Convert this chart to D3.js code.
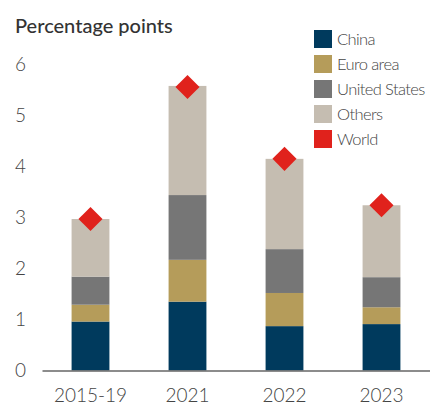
<!DOCTYPE html>
<html>
<head>
<meta charset="utf-8">
<script src="https://cdn.jsdelivr.net/npm/d3@7"></script>
<style>
  body { margin: 0; background: #fff; }
  text { font-family: Lato, "Open Sans", sans-serif; }
</style>
</head>
<body>
<svg id="chart" width="430" height="408"></svg>
<script>
// data
var periods = ['2015-19', '2021', '2022', '2023'];
var seriesNames = ['China', 'Euro area', 'United States', 'Others'];
var china = [0.96, 1.35, 0.87, 0.91];
var euroArea = [0.33, 0.82, 0.65, 0.33];
var unitedStates = [0.55, 1.27, 0.86, 0.59];
var others = [1.13, 2.14, 1.77, 1.41];
var world = [2.97, 5.56, 4.15, 3.24];
var yTicks = [0, 1, 2, 3, 4, 5, 6];

var colours = ['#003a5d', '#b59c5a', '#767676', '#c5bdb1'];
var worldColour = '#e0221c';

var svg = d3.select('#chart');

// build rows for the stack
var rows = periods.map(function(p, i) {
    return { period: p, 'China': china[i], 'Euro area': euroArea[i], 'United States': unitedStates[i], 'Others': others[i], world: world[i] };
});

var x = d3.scaleBand()
    .domain(periods)
    .range([42, 430])
    .paddingInner(0.61)
    .paddingOuter(0.305);

var y = d3.scaleLinear()
    .domain([0, 6])
    .range([370.5, 64.5]);

var stack = d3.stack().keys(seriesNames);
var layers = stack(rows);

// title
svg.append('text')
    .attr('x', 15)
    .attr('y', 33)
    .attr('font-size', 20)
    .attr('font-weight', 500)
    .attr('fill', '#333')
    .text('Percentage points');

// y tick labels (no axis line)
svg.append('g').selectAll('text')
    .data(yTicks)
    .enter().append('text')
    .attr('x', 15)
    .attr('y', function(d) { return y(d); })
    .attr('dy', '0.36em')
    .attr('font-size', 19)
    .attr('font-weight', 300)
    .attr('fill', '#444')
    .text(function(d) { return d; });

// bars
svg.append('g').selectAll('g')
    .data(layers)
    .enter().append('g')
    .attr('fill', function(d, i) { return colours[i]; })
    .selectAll('rect')
    .data(function(d) { return d; })
    .enter().append('rect')
    .attr('x', function(d) { return x(d.data.period); })
    .attr('width', x.bandwidth())
    .attr('y', function(d) { return y(d[1]); })
    .attr('height', function(d) { return y(d[0]) - y(d[1]); });

// baseline
var xAxis = svg.append('g')
    .attr('transform', 'translate(0,' + y(0) + ')')
    .call(d3.axisBottom(x).tickSize(0).tickPadding(18));
xAxis.select('.domain').attr('stroke', '#666').attr('stroke-width', 1.5);
xAxis.selectAll('text')
    .attr('font-size', 19)
    .attr('font-weight', 300)
    .attr('fill', '#444')
    .style('font-family', 'Lato, "Open Sans", sans-serif');

// world markers
svg.append('g').selectAll('path')
    .data(rows)
    .enter().append('path')
    .attr('d', d3.symbol().type(d3.symbolSquare).size(290))
    .attr('transform', function(d) {
        return 'translate(' + (x(d.period) + x.bandwidth() / 2) + ',' + y(d.world) + ') rotate(45)';
    })
    .attr('fill', worldColour);

// legend
var legendItems = seriesNames.concat(['World']);
var legendColours = colours.concat([worldColour]);
var legend = svg.append('g')
    .attr('transform', 'translate(314,30)')
    .selectAll('g')
    .data(legendItems)
    .enter().append('g')
    .attr('transform', function(d, i) { return 'translate(0,' + (i * 25) + ')'; });

legend.append('rect')
    .attr('width', 18)
    .attr('height', 18)
    .attr('fill', function(d, i) { return legendColours[i]; });

legend.append('text')
    .attr('x', 23)
    .attr('y', 9)
    .attr('dy', '0.36em')
    .attr('font-size', 16.5)
    .attr('font-weight', 300)
    .attr('letter-spacing', -0.6)
    .attr('fill', '#444')
    .text(function(d) { return d; });
</script>
</body>
</html>
